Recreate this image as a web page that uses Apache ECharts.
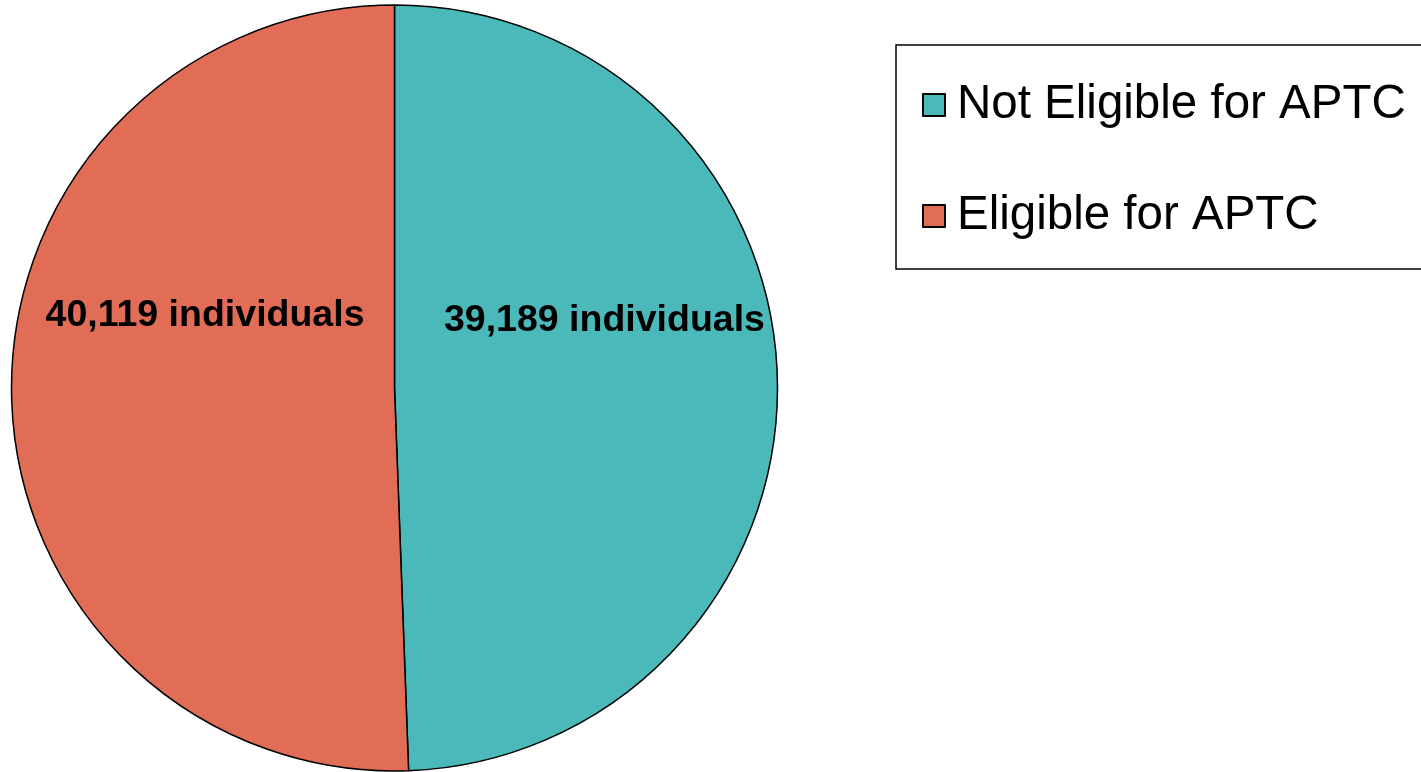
<!DOCTYPE html>
<html>
<head>
<meta charset="utf-8">
<script src="https://cdn.jsdelivr.net/npm/echarts@6/dist/echarts.min.js"></script>
<style>
html,body{margin:0;padding:0;background:#fff;}
#chart{width:1421px;height:772px;}
</style>
</head>
<body>
<div id="chart"></div>
<script>
const categories = ['Not Eligible for APTC', 'Eligible for APTC'];
const values = [39189, 40119];
const labelTexts = ['39,189 individuals', '40,119 individuals'];
const colors = ['#4bb8b9', '#e26d57'];

const chart = echarts.init(document.getElementById('chart'));
const FONT = "'Liberation Sans', Arial, sans-serif";
chart.setOption({
  animation: false,
  legend: {
    orient: 'vertical',
    left: 896,
    top: 45,
    padding: [36, 40, 29, 26],
    borderColor: '#000',
    borderWidth: 1.5,
    itemWidth: 22,
    itemHeight: 22,
    itemGap: 63,
    icon: 'rect',
    data: categories,
    textStyle: {
      fontFamily: FONT,
      fontSize: 47.5,
      lineHeight: 47,
      color: '#000',
      padding: [0, 0, 0, 7]
    }
  },
  series: [{
    type: 'pie',
    center: [394.5, 388],
    radius: 383,
    startAngle: 90,
    clockwise: true,
    itemStyle: { borderColor: '#000', borderWidth: 1.5 },
    label: {
      show: true,
      position: 'inside',
      fontFamily: FONT,
      fontSize: 37.5,
      fontWeight: 'bold',
      color: '#000',
      formatter: p => labelTexts[p.dataIndex]
    },
    labelLayout: function (p) {
      return p.dataIndex === 0 ? { dx: 15.5, dy: -64 } : { dx: 5, dy: -76 };
    },
    emphasis: { disabled: true },
    data: categories.map((c, i) => ({ name: c, value: values[i], itemStyle: { color: colors[i] } }))
  }]
});
</script>
</body>
</html>
